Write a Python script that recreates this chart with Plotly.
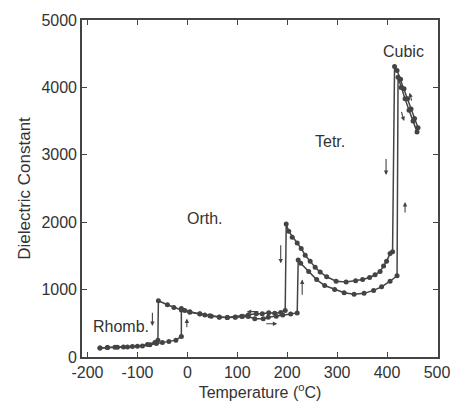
import plotly.graph_objects as go

# Cooling run (from high to low temperature)
cool_T = [462, 455, 448, 441, 434, 427, 420, 415, 411,
          406, 399, 393, 386, 376, 365, 351, 337, 318, 298, 279, 266, 256, 246, 236, 228, 220, 210, 203, 198,
          196, 187, 175, 163, 150, 138, 122, 109, 96, 80, 64, 48, 35, 25, 5, -12, -27, -40, -58,
          -59, -65, -80, -100, -120, -140, -160, -175]
cool_V = [3400, 3540, 3680, 3830, 3980, 4120, 4250, 4310, 1560,
          1534, 1420, 1351, 1270, 1220, 1180, 1150, 1130, 1114, 1124, 1190, 1260, 1330, 1420, 1510, 1610, 1690, 1777, 1864, 1975,
          690, 660, 650, 655, 640, 640, 625, 605, 595, 585, 591, 605, 625, 639, 663, 697, 736, 775, 835,
          250, 215, 185, 160, 150, 145, 140, 135]

# Heating run (from low to high temperature)
heat_T = [-175, -160, -145, -128, -110, -90, -75, -62, -50, -37, -23, -12,
          -12, -5, 5, 25, 45, 64, 80, 96, 110, 122, 135, 152, 162, 178, 191, 207, 220,
          222, 227, 243, 259, 275, 295, 314, 334, 354, 373, 389, 406, 420,
          422, 428, 436, 444, 452, 460]
heat_V = [135, 140, 145, 150, 155, 165, 180, 200, 215, 230, 250, 305,
          720, 690, 670, 640, 612, 593, 585, 590, 600, 600, 567, 567, 591, 605, 625, 639, 654,
          1440, 1390, 1268, 1148, 1061, 1003, 953, 930, 944, 988, 1041, 1124, 1206,
          4150, 4000, 3830, 3660, 3500, 3340]

# Phase labels
phase_names = ["Rhomb.", "Orth.", "Tetr.", "Cubic"]
phase_T = [-133, 35, 286, 432]
phase_V = [450, 2050, 3200, 4530]

# Direction arrows: (tail T, tail V, head T, head V)
arrow_tail_T = [-70, -1, 187, 230, 145, 155, 398, 436, 450, 428]
arrow_tail_V = [680, 420, 1680, 900, 673, 494, 2960, 2120, 3780, 3660]
arrow_head_T = [-70, -1, 187, 230, 119, 180, 398, 436, 445, 434]
arrow_head_V = [460, 570, 1390, 1150, 673, 494, 2700, 2300, 3920, 3500]

line_col = "#444444"
text_col = "#333333"
font_fam = "Liberation Sans, Arial, sans-serif"

fig = go.Figure()
fig.add_trace(go.Scatter(x=cool_T, y=cool_V, mode="lines+markers",
                         line=dict(color=line_col, width=1.5),
                         marker=dict(color=line_col, size=5), showlegend=False))
fig.add_trace(go.Scatter(x=heat_T, y=heat_V, mode="lines+markers",
                         line=dict(color=line_col, width=1.5),
                         marker=dict(color=line_col, size=5), showlegend=False))

for name, t, v in zip(phase_names, phase_T, phase_V):
    fig.add_annotation(x=t, y=v, text=name, showarrow=False,
                       font=dict(size=16, color=text_col, family=font_fam))

for tt, tv, ht, hv in zip(arrow_tail_T, arrow_tail_V, arrow_head_T, arrow_head_V):
    fig.add_annotation(x=ht, y=hv, ax=tt, ay=tv, xref="x", yref="y", axref="x", ayref="y",
                       text="", showarrow=True, arrowhead=2, arrowsize=0.8, arrowwidth=1.1,
                       arrowcolor=line_col)

axis_common = dict(showline=True, linecolor=line_col, linewidth=1.6, mirror="ticks",
                   ticks="inside", ticklen=5, tickcolor=line_col, showgrid=False, zeroline=False,
                   tickfont=dict(size=16, color=text_col, family=font_fam))

fig.update_xaxes(range=[-211, 502], tickvals=[-200, -100, 0, 100, 200, 300, 400, 500],
                 ticktext=["-200", "-100", "0", "100", "200", "300", "400", "500"],
                 title=dict(text="Temperature (<sup>o</sup>C)", standoff=6,
                            font=dict(size=16, color=text_col, family=font_fam)),
                 **axis_common)
fig.update_yaxes(range=[0, 5000], tickvals=[0, 1000, 2000, 3000, 4000, 5000],
                 title=dict(text="Dielectric Constant", standoff=6,
                            font=dict(size=17, color=text_col, family=font_fam)),
                 **axis_common)

fig.update_layout(width=462, height=410, margin=dict(l=82, r=14, t=15, b=51),
                  plot_bgcolor="white", paper_bgcolor="white")

fig.write_html("out.html", config={"displayModeBar": False},
               post_script="document.body.style.margin='0';document.body.style.padding='0';"
                           "document.body.style.overflow='hidden';")
